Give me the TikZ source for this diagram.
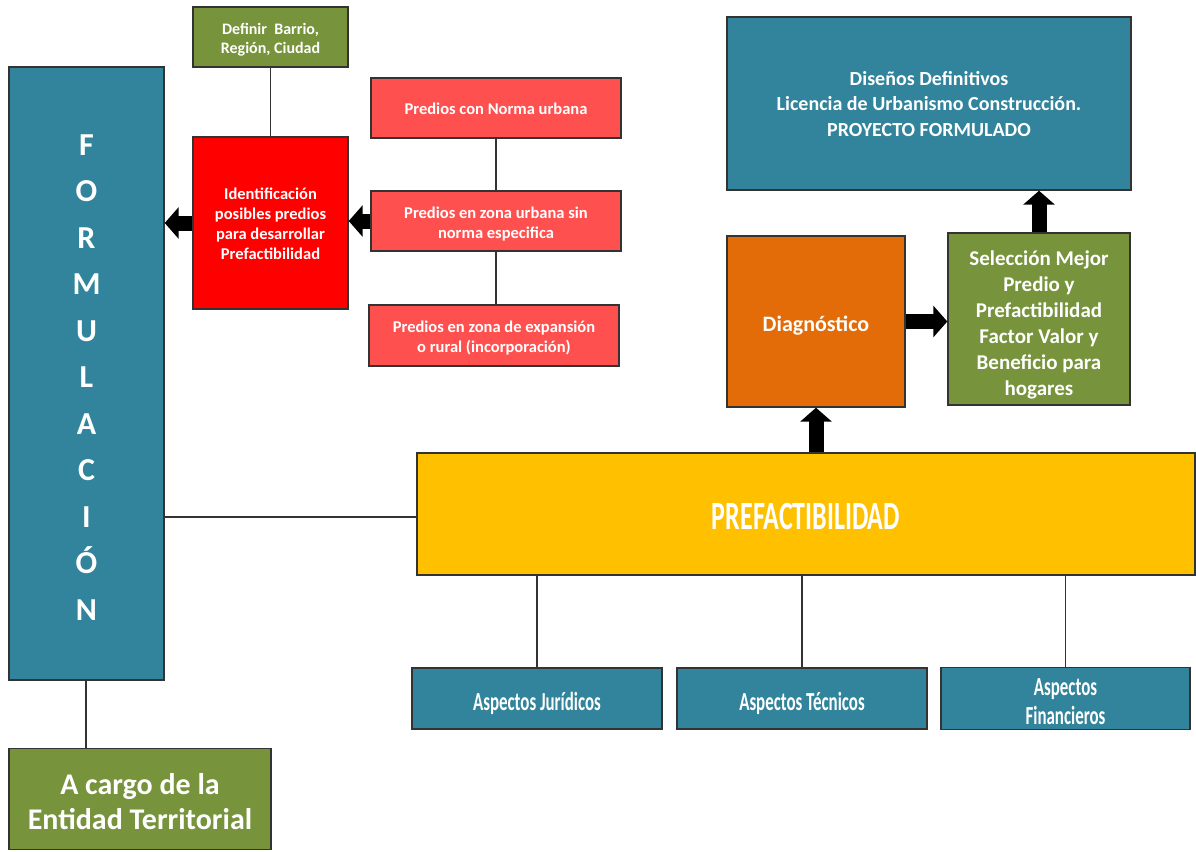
\documentclass[tikz,border=0pt]{standalone}
\usepackage{fontspec}
\setmainfont{Carlito}
\usepackage{graphicx}
\usetikzlibrary{arrows.meta}
\definecolor{cTeal}{HTML}{31849B}
\definecolor{cOlive}{HTML}{77933C}
\definecolor{cRed}{HTML}{FF0000}
\definecolor{cRose}{HTML}{FF5050}
\definecolor{cOrange}{HTML}{E36C09}
\definecolor{cGold}{HTML}{FFC000}
\newcommand{\txt}[2][-5pt]{\raisebox{#1}[\height][\depth]{\begin{tabular}{@{}c@{}}#2\end{tabular}}}
\newcommand{\squeeze}[2][-6pt]{\raisebox{#1}[\height][\depth]{\scalebox{0.65}[1]{\begin{tabular}{@{}c@{}}#2\end{tabular}}}}

\begin{document}
\begin{tikzpicture}[x=1pt,y=-1pt,
  box/.style={draw=black!80,line width=1.4pt,inner sep=2pt,align=center,text=white,font=\bfseries},
  small/.style={box,font=\bfseries\fontsize{16.5}{20}\selectfont},
  link/.style={draw=black!80,line width=1.9pt},
  fat/.style={line width=15pt,-{Triangle[length=14pt,width=31pt]}}]
\useasboundingbox (0,0) rectangle (1196,851);
% left column
\node[box,fill=cTeal,minimum width=155pt,minimum height=613pt,
  font=\bfseries\fontsize{32}{46.5}\selectfont] (formu) at (86.5,373.5)
  {\txt{F\\O\\R\\M\\U\\L\\A\\C\\I\\Ó\\N}};
\node[box,fill=cOlive,minimum width=262pt,minimum height=101pt,
  font=\bfseries\fontsize{30}{35}\selectfont] (cargo) at (140,799) {\txt[-6pt]{A cargo de la\\Entidad Territorial}};
% predios
\node[small,fill=cOlive,minimum width=155pt,minimum height=60pt,
  font=\bfseries\fontsize{16}{19}\selectfont] (defn) at (270.5,37) {\txt[-3pt]{Definir~ Barrio,\\Región, Ciudad}};
\node[small,fill=cRed,minimum width=155pt,minimum height=172pt] (ident) at (270.5,223)
  {\txt[-2pt]{Identificación\\posibles predios\\para desarrollar\\Prefactibilidad}};
\node[small,fill=cRose,minimum width=250pt,minimum height=60pt] (norma) at (496,108) {\txt[-2pt]{Predios con Norma urbana}};
\node[small,fill=cRose,minimum width=250pt,minimum height=60pt] (zona) at (496,221) {\txt[-3pt]{Predios en zona urbana sin\\norma especifica}};
\node[small,fill=cRose,minimum width=250pt,minimum height=61pt] (expan) at (494,335.5) {\txt[-3pt]{Predios en zona de expansión\\o rural (incorporación)}};
% right part
\node[box,fill=cTeal,minimum width=404pt,minimum height=173pt,
  font=\bfseries\fontsize{20}{25.5}\selectfont] (disenos) at (929,103.5)
  {\txt[-2pt]{Diseños Definitivos\\Licencia de Urbanismo Construcción.\\PROYECTO FORMULADO}};
\node[box,fill=cOrange,minimum width=178pt,minimum height=171pt,
  font=\bfseries\fontsize{22}{26}\selectfont] (diag) at (816,321.5) {\txt{Diagnóstico}};
\node[box,fill=cOlive,minimum width=182pt,minimum height=172pt,
  font=\bfseries\fontsize{21}{26}\selectfont] (selec) at (1039,319)
  {\txt[-6pt]{Selección Mejor\\Predio y\\Prefactibilidad\\Factor Valor y\\Beneficio para\\hogares}};
\node[box,fill=cGold,minimum width=778pt,minimum height=122pt,
  font=\bfseries\fontsize{40}{42}\selectfont] (prefac) at (806,514) {\squeeze[-7pt]{PREFACTIBILIDAD}};
\node[box,fill=cTeal,minimum width=250pt,minimum height=61pt,
  font=\bfseries\fontsize{26}{29}\selectfont] (jur) at (537,698.5) {\squeeze{Aspectos Jurídicos}};
\node[box,fill=cTeal,minimum width=250pt,minimum height=61pt,
  font=\bfseries\fontsize{26}{29}\selectfont] (tec) at (802,698.5) {\squeeze{Aspectos Técnicos}};
\node[box,fill=cTeal,minimum width=249pt,minimum height=61pt,
  font=\bfseries\fontsize{26}{29}\selectfont] (fin) at (1065.5,698.5) {\squeeze{Aspectos\\Financieros}};
% connectors
\draw[link] (defn.south) -- (ident.north);
\draw[link] (norma.south) -- (zona.north);
\draw[link] (zona.south) -- (zona.south |- expan.north);
\draw[link] (prefac.west -| formu.east) ++(0,3) coordinate (fl) -- (fl -| prefac.west);
\draw[link] (formu.south -| cargo.north) ++(-54,0) coordinate (fb) -- (fb |- cargo.north);
\draw[link] (jur.north |- prefac.south) -- (jur.north);
\draw[link] (tec.north |- prefac.south) -- (tec.north);
\draw[link] (fin.north |- prefac.south) -- (fin.north);
\draw[fat] (zona.west) -- (zona.west -| ident.east);
\draw[fat] (ident.west) -- (ident.west -| formu.east);
\draw[fat] (prefac.north -| diag.south) -- (diag.south);
\draw[fat] (diag.east) -- (diag.east -| selec.west);
\draw[fat] (selec.north) -- (selec.north |- disenos.south);
\end{tikzpicture}
\end{document}
